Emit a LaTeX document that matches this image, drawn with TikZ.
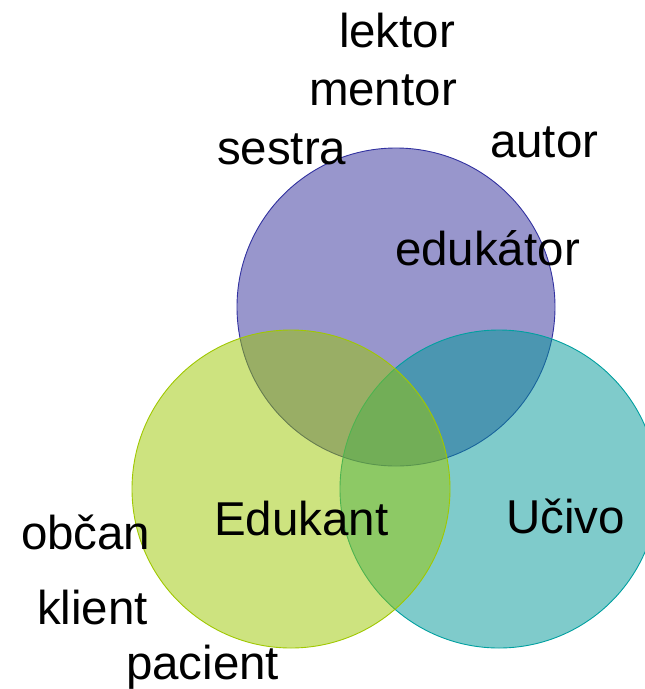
\documentclass[tikz,border=0pt]{standalone}
\usepackage{fontspec}
\setmainfont{Liberation Sans}
\definecolor{purpbase}{RGB}{49,45,153}
\definecolor{purpline}{RGB}{50,50,160}
\definecolor{tealbase}{RGB}{0,151,151}
\definecolor{tealline}{RGB}{0,160,160}
\definecolor{greenbase}{RGB}{155,199,0}
\definecolor{greenline}{RGB}{160,200,0}
\tikzset{
  venn/.style={circle, minimum size=318pt, inner sep=0pt, fill opacity=0.5, draw opacity=1, line width=0.9pt},
  lbl/.style={anchor=base west, inner sep=0pt, outer sep=0pt, text=black, font=\fontsize{47.5pt}{57pt}\selectfont}
}
\begin{document}
\begin{tikzpicture}[x=1pt,y=-1pt]
\useasboundingbox (0,0) rectangle (645,689);
\clip (0,0) rectangle (645,689);
\node[venn, fill=purpbase, draw=purpline] (edukator) at (396,307) {};
\node[venn, fill=tealbase, draw=tealline] (ucivo) at (499,489) {};
\node[venn, fill=greenbase, draw=greenline] (edukant) at (291,489) {};
\node[lbl] (lektor) at (339,47) {lektor};
\node[lbl] (mentor) at (309,105) {mentor};
\node[lbl] (sestra) at (217,164) {sestra};
\node[lbl] (autor) at (490,157) {autor};
\node[lbl] (edu) at (395,265) {edukátor};
\node[lbl] (edk) at (214,535) {Edukant};
\node[lbl] (uc) at (506,533) {Učivo};
\node[lbl] (obcan) at (21,549) {občan};
\node[lbl] (klient) at (37,624) {klient};
\node[lbl] (pacient) at (126,679) {pacient};
\end{tikzpicture}
\end{document}
